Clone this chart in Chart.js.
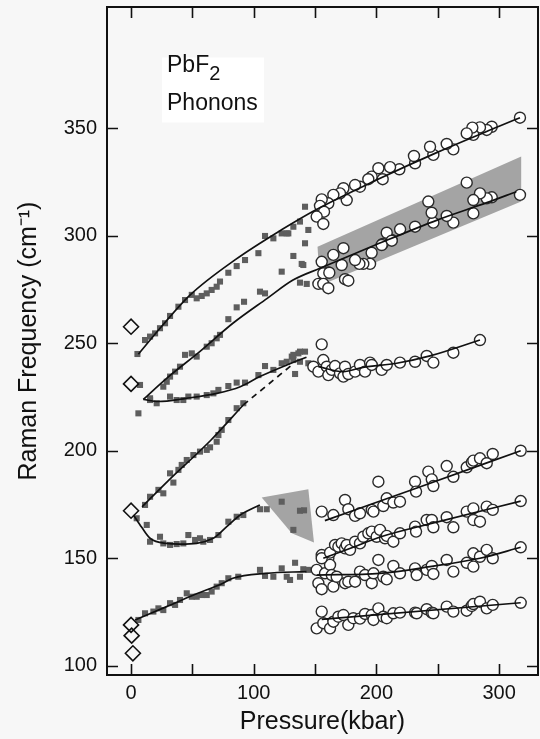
<!DOCTYPE html>
<html>
<head>
<meta charset="utf-8">
<title>PbF2 Phonons</title>
<script src="https://cdn.jsdelivr.net/npm/chart.js@4.4.0/dist/chart.umd.min.js"></script>
<style>
  html, body { margin: 0; padding: 0; background: #f7f7f7; }
  #wrap { width: 540px; height: 739px; }
</style>
</head>
<body>
<div id="wrap"><canvas id="phononChart"></canvas></div>
<script>
// axis ticks
const xTickValues = [0, 50, 100, 150, 200, 250, 300];
const xTickLabels = [0, 100, 200, 300];
const yTickValues = [100, 150, 200, 250, 300, 350];

// zero-pressure reference values (diamonds)
const zeroP = [[0, 257.8], [0, 231.2], [0, 172.2], [0, 119.1], [0.5, 114.1], [1.5, 105.9]];

// low pressure data (filled squares), one list per branch
const sqA = [[5.2, 245.1], [11.4, 251.6], [15.5, 253.2], [19.6, 254.7], [23.6, 257.1], [27.7, 259.4],
  [31.8, 262.8], [38.6, 267.1], [44, 270.2], [49.5, 272.6], [53.5, 271], [57.6, 272.1], [61.7, 273.3],
  [65.7, 274.9], [69.8, 276.4], [72.5, 278.8], [79.3, 282.9], [86.1, 286], [92.9, 288.8], [103.8, 292],
  [109.2, 300], [116, 298.9], [122.8, 301.2], [128.2, 301.2], [141.8, 296.6], [132.3, 290.7],
  [139.1, 287], [122.8, 283.4], [141.8, 313.6], [137.7, 306.7], [144.5, 302.8], [132.3, 304.3],
  [140.4, 286.5], [126.9, 301.2]];
const sqB = [[7.3, 230.7], [15.5, 224.5], [26.3, 229.9], [29.1, 232.2], [31.8, 234.6], [35.9, 236.9],
  [39.9, 239.2], [44, 244.7], [49.5, 245.4], [53.5, 243.9], [61.7, 248.5], [65.7, 250.1], [69.8, 252.4],
  [72.5, 254], [79.3, 261.3], [86.1, 266.8], [92.1, 269.4], [105.1, 274.1], [109.2, 273.3],
  [137.7, 278.3], [143.2, 277.7]];
const sqC = [[6, 217.5], [15.5, 223.7], [20.9, 222.2], [31.8, 225.3], [37.2, 223.7], [42.6, 223.7],
  [46.7, 225.3], [53.5, 225.3], [61.7, 226], [67.1, 226.8], [71.2, 228.4], [79.3, 230.2], [86.1, 231.8],
  [92.9, 231.8], [103.8, 235.3], [109.2, 239.5], [116, 237.7], [122.8, 240.8], [126.9, 241.5],
  [131, 243.9], [136.4, 245.4], [141.8, 246.2], [132.3, 242.3], [133.7, 235.8], [137.7, 241.5],
  [144.5, 240.8], [132.3, 244.7], [137.7, 246.2]];
const sqD = [[11.4, 174.9], [15.5, 178.7], [22.3, 181.9], [26.3, 180.3], [31.8, 189.6], [34.5, 185.3],
  [38.6, 191.2], [41.3, 193.5], [45.4, 195.8], [50.8, 198.1], [56.2, 199.7], [61.7, 200.5],
  [64.4, 201.7], [69.8, 204.3], [71.2, 207.4], [73.9, 209.8], [79.3, 214.4], [86.1, 219.9], [91.5, 222.2]];
const sqE = [[4.6, 168.7], [12.8, 165.6], [15.5, 157.8], [23.6, 160.1], [26.3, 157], [31.8, 156.3],
  [37.2, 156.7], [42.6, 157], [46.7, 160.9], [52.2, 158.6], [56.2, 159.4], [58.9, 157.8], [64.4, 158.6],
  [71.2, 160.9], [79.3, 167.1], [86.1, 169.4], [91.5, 170.2], [105.1, 172.9], [110.6, 172.9],
  [122.8, 176.4], [137.7, 172.2], [141, 172.4], [132.3, 163.3]];
const sqF = [[6, 121.4], [11.4, 124.5], [18.2, 125.3], [22.3, 126.8], [26.3, 126], [31.8, 129.2],
  [35.9, 128.4], [39.9, 130.7], [45.4, 133.8], [49.5, 132.2], [53.5, 132.2], [57.6, 133], [61.7, 133],
  [65.7, 134.6], [69.8, 136.9], [73.9, 138.5], [79.3, 140.8], [87.4, 141.5], [105.1, 144.7],
  [109.2, 141.9], [116, 141.5], [122.8, 145.4], [126.9, 141.5], [129.6, 140], [133.7, 148],
  [137.7, 141.5], [140.4, 145], [144.5, 144.7]];

// high pressure data (open circles)
const cirA = [[317, 355], [294, 350.8], [289.9, 349.3], [284.4, 350.5], [279, 347], [278.2, 350.4],
  [273.6, 347.7], [262.7, 340.3], [257.3, 342.8], [246.4, 337.7], [243.7, 341.5], [231.5, 333.8],
  [230.6, 337.2], [218.7, 331], [211.1, 332], [205.1, 326.4], [201.6, 331.5], [196.1, 327.6],
  [193.4, 326.4], [186.6, 322.9], [182.6, 323.7], [175.8, 316.7], [173.1, 322.2], [170.3, 319.8],
  [164.9, 319.1], [160.8, 315.2], [155.4, 317], [154, 314], [157.3, 311.3], [151.3, 309], [156.7, 305.6]];
const cirB = [[317, 319.1], [294, 318], [289.9, 317.5], [284.4, 319.8], [279, 316.7], [279, 310.5],
  [273.6, 324.8], [262.7, 306.2], [257.3, 309.3], [246.4, 306.2], [245, 310.8], [242.3, 316],
  [231.5, 304.3], [219.3, 303.1], [212.5, 298.1], [208.4, 301.5], [205.1, 296.3], [196.1, 292.2],
  [194.8, 287], [189.3, 287], [186.1, 287], [182.6, 288.8], [173.1, 294.3], [171.7, 286.5],
  [164.9, 291.2], [160.8, 283], [155.4, 288], [156.7, 282.6], [161.6, 282.9], [152.7, 277.7],
  [156.7, 277.7], [160.8, 275.7], [174.4, 279.9], [177.1, 279.2], [204.3, 295.8], [212.5, 297.8]];
const cirC = [[155.4, 249.6], [148.6, 239.2], [152.7, 236.9], [156.7, 242.3], [159.5, 239.2],
  [160.8, 235.3], [163.6, 237.7], [166.3, 239.5], [170.3, 236.1], [173.1, 234.6], [174.4, 239.2],
  [177.1, 235.8], [182.6, 236.9], [186.6, 240], [190.7, 236.9], [194.8, 241.1], [196.2, 240],
  [204.3, 237.7], [208.4, 240], [219.2, 241.1], [231.5, 241.5], [241, 244.2], [246.4, 241.1],
  [262.7, 245.7], [284.4, 251.6]];
const cirG1 = [[155.4, 171.8], [164.9, 170.2], [174.4, 177.2], [177.1, 172.9], [182.6, 169.8],
  [186.6, 171], [196.2, 172.6], [197.6, 171.8], [201.6, 185.7], [205.6, 174.4], [208.4, 178],
  [213.8, 176], [219.2, 176.4], [231.5, 185.7], [232.3, 181.1], [242.3, 190.4], [245.1, 186.8],
  [246.4, 183.7], [257.3, 193], [262.7, 188], [273.6, 192.4], [277.7, 194.6], [279, 195.5],
  [284.4, 196.6], [289.9, 194.3], [294.8, 198.6], [317.6, 200.1]];
const cirG2 = [[155.4, 151.6], [155.4, 150.1], [162.2, 152.7], [166.3, 156.3], [169, 155.5],
  [171.7, 157], [174.4, 154.7], [175.8, 156.3], [178.5, 154], [182.6, 157.8], [186.6, 157],
  [189.3, 160.1], [193.4, 161.7], [196.2, 162.5], [200.2, 160.1], [202.9, 163.3], [207, 159.4],
  [208.4, 160.5], [213.8, 157.8], [219.2, 161.7], [231.5, 164.8], [232.3, 162.5], [241, 167.9],
  [245.1, 167.9], [246.4, 164.5], [257.3, 169.2], [262.7, 164.5], [273.6, 171.8], [279, 173.3],
  [279, 167.9], [284.4, 167.1], [289.9, 174.1], [294.8, 172.6], [317.6, 176.7]];
const cirG3 = [[151.3, 144.7], [152.7, 138.5], [155.4, 135.7], [158.1, 143.1], [160.8, 150.1],
  [162.2, 147], [163.6, 142.3], [164.9, 136.9], [167.6, 141.5], [174.4, 138.5], [177.1, 139.2],
  [182.6, 139.2], [186.6, 143.9], [190.7, 142.3], [196.2, 138.5], [197.6, 143.1], [201.6, 149.3],
  [205.6, 141.5], [208.4, 140.3], [213.8, 146.5], [219.2, 143.1], [231.5, 145.4], [232.8, 142.3],
  [241, 144.7], [245.1, 146.5], [246.4, 142.8], [257.3, 149.3], [262.7, 143.9], [273.6, 148],
  [279, 146.2], [279, 152.4], [284.4, 150.8], [289.9, 154], [294.8, 150.1], [317.6, 155.2]];
const cirG4 = [[155.4, 125.3], [151.3, 117.5], [156.7, 119.9], [162.2, 117.5], [164.9, 120.6],
  [169, 122.9], [173.1, 123.7], [177.1, 119.1], [181.2, 122.2], [186.6, 122], [190.7, 124.2],
  [196.2, 123.7], [197.6, 121.4], [201.6, 126.8], [205.6, 122.9], [208.4, 122.2], [213.8, 124.5],
  [219.2, 124.8], [231.5, 124.8], [232.8, 124.5], [241, 126.4], [245.1, 124.8], [246.4, 124.5],
  [257.3, 127.6], [262.7, 125.3], [273.6, 125.7], [277.7, 127.9], [279, 128.8], [284.4, 129.9],
  [289.9, 126.8], [294.8, 128.4], [317.6, 129.4]];

// guide curves through each branch
const fitA = [[6, 245], [25, 258], [48, 272.5], [85, 289], [123, 303], [150, 312], [200, 326],
  [250, 339], [300, 351], [317, 355]];
const fitB = [[10, 224], [29, 233.8], [56, 246.2], [83, 259.4], [111, 271], [132, 279.5], [154, 285],
  [200, 296], [250, 307.5], [290, 315.5], [314, 320.6]];
const fitC = [[10, 224], [22, 223], [45, 224.5], [70, 226.8], [89, 229.9], [105, 234.6], [127, 240],
  [143, 243.6]];
const fitC2 = [[152.7, 239.2], [173, 236.9], [189, 238.9], [216.5, 240.8], [243.7, 244.2], [284.4, 251.6]];
const fitD = [[9, 174], [30, 186], [65, 205], [91.5, 221.4]];
const fitDdash = [[91.5, 221.4], [130, 239.5]];
const fitE = [[2, 170.2], [8.7, 164.5], [15.5, 159.4], [29, 157], [40, 156.7], [67, 159.4], [78, 164.8],
  [89, 170.2], [105, 174.9]];
const fitF = [[3.3, 121.4], [29, 127.6], [51, 133], [75, 138.5], [83, 140.8], [110, 143.1], [143, 143.9]];
const fitG1 = [[158, 167.6], [233, 182.8], [317.6, 200.1]];
const fitG2 = [[156.7, 150.1], [180, 155], [203, 160], [250, 167], [317.6, 176.7]];
const fitG3 = [[151.3, 142.3], [203, 143.1], [243.7, 146.2], [284.4, 150.1], [317.6, 155.2]];
const fitG4 = [[155.4, 121.7], [317.6, 129.4]];

// shaded regions
const bandB = [[152, 295], [318, 337], [318, 316], [154, 277]];
const patchE = [[106.5, 178.4], [144.5, 182.2], [149.1, 157.4], [131, 161.7]];

const FONT = '"Liberation Sans", Arial, Helvetica, sans-serif';
const toXY = arr => arr.map(([x, y]) => ({ x, y }));

function curve(points, dash) {
  return {
    data: toXY(points), showLine: true, pointRadius: 0, borderColor: '#111', borderWidth: 1.7,
    borderDash: dash || [], cubicInterpolationMode: 'monotone', fill: false, order: 0
  };
}
function circles(points) {
  return {
    data: toXY(points), showLine: false, pointStyle: 'circle', pointRadius: 5.5,
    pointBackgroundColor: '#fff', pointBorderColor: '#2a2a2a', pointBorderWidth: 1.4, order: 1
  };
}
function squares(points) {
  return {
    data: toXY(points), showLine: false, pointStyle: 'rect', pointRadius: 4.3,
    pointBackgroundColor: '#5e5e5e', pointBorderWidth: 0, pointBorderColor: 'rgba(0,0,0,0)', order: 2
  };
}
function shade(points) {
  return {
    data: toXY(points), showLine: true, pointRadius: 0, tension: 0, fill: 'shape',
    backgroundColor: '#a4a4a4', borderColor: 'rgba(0,0,0,0)', borderWidth: 1, order: 5
  };
}

const datasets = [
  curve(fitA), curve(fitB), curve(fitC), curve(fitC2), curve(fitD), curve(fitDdash, [6, 5]),
  curve(fitE), curve(fitF), curve(fitG1), curve(fitG2), curve(fitG3), curve(fitG4),
  circles(cirA), circles(cirB), circles(cirC), circles(cirG1), circles(cirG2), circles(cirG3), circles(cirG4),
  squares(sqA), squares(sqB), squares(sqC), squares(sqD), squares(sqE), squares(sqF),
  {
    data: toXY(zeroP), showLine: false, pointStyle: 'rectRot', pointRadius: 7.5,
    pointBackgroundColor: 'rgba(0,0,0,0)', pointBorderColor: '#111', pointBorderWidth: 1.6, order: 1
  },
  shade(bandB), shade(patchE)
];

// frame with inward ticks on all four sides, plus the sample label
const framePlugin = {
  id: 'frame',
  beforeDraw(chart) {
    const { ctx, width, height } = chart;
    ctx.save();
    ctx.fillStyle = '#f7f7f7';
    ctx.fillRect(0, 0, width, height);
    ctx.restore();
  },
  beforeDatasetsDraw(chart) {
    const { ctx, scales: { x, y } } = chart;
    const left = x.getPixelForValue(29.3);
    ctx.save();
    ctx.fillStyle = '#ffffff';
    ctx.fillRect(left - 5, y.getPixelForValue(383), 102, 65);
    ctx.fillStyle = '#111';
    ctx.textBaseline = 'alphabetic';
    ctx.font = '23px ' + FONT;
    const base1 = y.getPixelForValue(376.3);
    ctx.fillText('PbF', left, base1);
    const w = ctx.measureText('PbF').width;
    ctx.font = '20px ' + FONT;
    ctx.fillText('2', left + w, base1 + 8);
    ctx.font = '23px ' + FONT;
    ctx.fillText('Phonons', left, y.getPixelForValue(358.6));
    ctx.restore();
  },
  afterDraw(chart) {
    const { ctx, chartArea: a, scales: { x, y } } = chart;
    const len = 11;
    ctx.save();
    ctx.strokeStyle = '#111';
    ctx.lineWidth = 1.6;
    ctx.beginPath();
    xTickValues.forEach(v => {
      const px = Math.round(x.getPixelForValue(v)) + 0.5;
      ctx.moveTo(px, a.bottom); ctx.lineTo(px, a.bottom - len);
      ctx.moveTo(px, a.top); ctx.lineTo(px, a.top + len);
    });
    yTickValues.forEach(v => {
      const py = Math.round(y.getPixelForValue(v)) + 0.5;
      ctx.moveTo(a.left, py); ctx.lineTo(a.left + len, py);
      ctx.moveTo(a.right, py); ctx.lineTo(a.right - len, py);
    });
    ctx.stroke();
    ctx.lineWidth = 2;
    ctx.strokeRect(a.left, a.top, a.right - a.left, a.bottom - a.top);
    ctx.restore();
  }
};

new Chart(document.getElementById('phononChart'), {
  type: 'line',
  data: { datasets },
  options: {
    responsive: true,
    maintainAspectRatio: false,
    animation: false,
    layout: { autoPadding: false, padding: { top: 7, right: 2, left: 0, bottom: 0 } },
    plugins: { legend: { display: false }, tooltip: { enabled: false } },
    scales: {
      x: {
        type: 'linear', min: -19.6, max: 331.7,
        afterBuildTicks: axis => { axis.ticks = xTickValues.map(v => ({ value: v })); },
        afterFit: s => { s.height = 64; s.paddingLeft = 0; s.paddingRight = 0; },
        grid: { display: false, drawTicks: false }, border: { display: false },
        ticks: {
          autoSkip: false, maxRotation: 0, padding: 6, color: '#111',
          font: { family: FONT, size: 20 },
          callback: v => xTickLabels.includes(v) ? String(v) : ''
        },
        title: {
          display: true, text: 'Pressure(kbar)', color: '#111',
          font: { family: FONT, size: 25 }, padding: { top: 0, bottom: 2 }
        }
      },
      y: {
        type: 'linear', min: 95.8, max: 406.5,
        afterBuildTicks: axis => { axis.ticks = yTickValues.map(v => ({ value: v })); },
        afterFit: s => { s.width = 107; s.paddingTop = 0; s.paddingBottom = 0; },
        grid: { display: false, drawTicks: false }, border: { display: false },
        ticks: { padding: 10, color: '#111', font: { family: FONT, size: 20 } },
        title: {
          display: true, text: 'Raman Frequency (cm⁻¹)', color: '#111',
          font: { family: FONT, size: 25 }, padding: { top: 14, bottom: 0 }
        }
      }
    }
  },
  plugins: [framePlugin]
});
</script>
</body>
</html>
